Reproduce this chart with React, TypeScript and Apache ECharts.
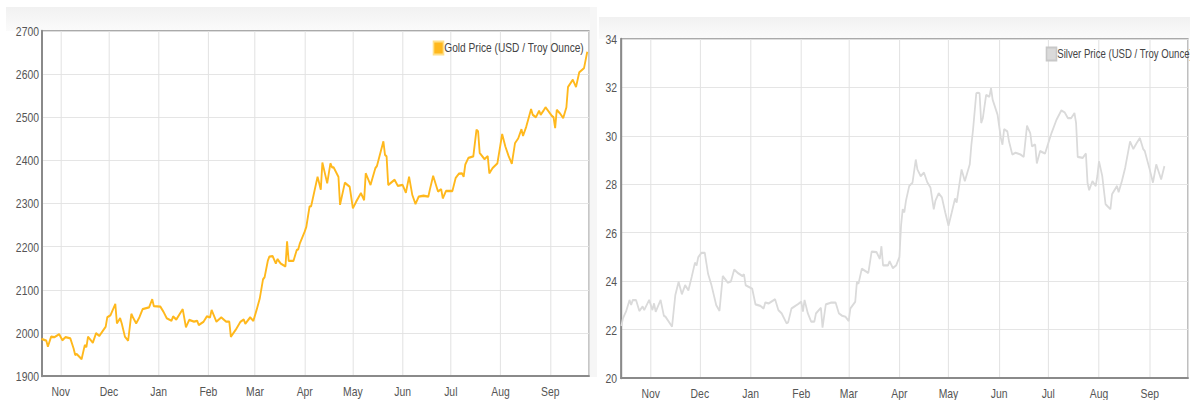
import React, { useEffect, useRef } from "react";
import * as echarts from "echarts";

const goldDates = ["2023-10-20","2023-10-23","2023-10-24","2023-10-26","2023-10-28","2023-10-31","2023-11-02","2023-11-04","2023-11-07","2023-11-09","2023-11-10","2023-11-11","2023-11-14","2023-11-16","2023-11-17","2023-11-18","2023-11-21","2023-11-23","2023-11-25","2023-11-29","2023-11-30","2023-12-02","2023-12-05","2023-12-06","2023-12-08","2023-12-09","2023-12-11","2023-12-13","2023-12-15","2023-12-16","2023-12-18","2023-12-20","2023-12-22","2023-12-26","2023-12-28","2023-12-29","2024-01-02","2024-01-04","2024-01-06","2024-01-09","2024-01-10","2024-01-12","2024-01-16","2024-01-18","2024-01-20","2024-01-23","2024-01-25","2024-01-26","2024-01-29","2024-01-31","2024-02-02","2024-02-03","2024-02-06","2024-02-09","2024-02-12","2024-02-14","2024-02-15","2024-02-18","2024-02-21","2024-02-23","2024-02-24","2024-02-27","2024-02-29","2024-03-02","2024-03-04","2024-03-06","2024-03-07","2024-03-09","2024-03-10","2024-03-12","2024-03-14","2024-03-15","2024-03-17","2024-03-20","2024-03-21","2024-03-22","2024-03-25","2024-03-27","2024-03-28","2024-03-29","2024-04-01","2024-04-02","2024-04-04","2024-04-05","2024-04-09","2024-04-11","2024-04-12","2024-04-15","2024-04-17","2024-04-18","2024-04-19","2024-04-22","2024-04-23","2024-04-26","2024-04-29","2024-05-01","2024-05-03","2024-05-06","2024-05-08","2024-05-09","2024-05-12","2024-05-15","2024-05-16","2024-05-20","2024-05-21","2024-05-22","2024-05-23","2024-05-27","2024-05-29","2024-06-01","2024-06-03","2024-06-05","2024-06-07","2024-06-09","2024-06-11","2024-06-14","2024-06-17","2024-06-18","2024-06-20","2024-06-23","2024-06-25","2024-06-26","2024-06-28","2024-07-02","2024-07-04","2024-07-06","2024-07-08","2024-07-09","2024-07-10","2024-07-12","2024-07-15","2024-07-17","2024-07-18","2024-07-19","2024-07-22","2024-07-24","2024-07-25","2024-07-27","2024-07-30","2024-08-02","2024-08-04","2024-08-06","2024-08-08","2024-08-10","2024-08-12","2024-08-14","2024-08-15","2024-08-17","2024-08-20","2024-08-21","2024-08-23","2024-08-25","2024-08-26","2024-08-28","2024-08-29","2024-09-02","2024-09-03","2024-09-04","2024-09-05","2024-09-07","2024-09-09","2024-09-11","2024-09-12","2024-09-15","2024-09-17","2024-09-19","2024-09-22","2024-09-24"];
const goldPrices = [1986,1982,1968,1991,1990,1997,1983,1990,1987,1964,1949,1951,1939,1972,1967,1991,1977,1999,1993,2014,2036,2041,2067,2022,2034,2022,1991,1982,2044,2036,2022,2036,2055,2059,2078,2062,2061,2049,2034,2028,2038,2031,2055,2013,2030,2026,2028,2018,2026,2038,2036,2053,2026,2036,2026,2026,1991,2007,2026,2031,2021,2036,2028,2053,2080,2124,2129,2167,2177,2178,2161,2171,2161,2154,2212,2167,2167,2192,2194,2208,2235,2246,2293,2294,2362,2332,2395,2347,2393,2384,2384,2362,2297,2348,2339,2289,2304,2324,2308,2370,2343,2382,2387,2444,2413,2409,2343,2355,2341,2343,2325,2362,2320,2299,2316,2318,2316,2333,2364,2328,2333,2312,2329,2329,2359,2369,2370,2362,2390,2406,2409,2471,2467,2417,2403,2410,2370,2382,2393,2461,2432,2410,2392,2440,2451,2472,2457,2478,2519,2506,2500,2515,2506,2517,2523,2503,2500,2475,2517,2509,2498,2523,2570,2587,2570,2604,2614,2652];

const silverDates = ["2023-10-14","2023-10-15","2023-10-17","2023-10-19","2023-10-20","2023-10-21","2023-10-23","2023-10-25","2023-10-27","2023-10-28","2023-10-31","2023-11-02","2023-11-03","2023-11-04","2023-11-07","2023-11-09","2023-11-10","2023-11-14","2023-11-16","2023-11-18","2023-11-20","2023-11-22","2023-11-24","2023-11-26","2023-11-28","2023-11-29","2023-11-30","2023-12-02","2023-12-04","2023-12-06","2023-12-08","2023-12-11","2023-12-13","2023-12-15","2023-12-18","2023-12-20","2023-12-22","2023-12-24","2023-12-27","2023-12-28","2023-12-29","2024-01-02","2024-01-04","2024-01-07","2024-01-09","2024-01-10","2024-01-12","2024-01-16","2024-01-18","2024-01-20","2024-01-23","2024-01-24","2024-01-26","2024-01-30","2024-02-01","2024-02-02","2024-02-03","2024-02-05","2024-02-07","2024-02-09","2024-02-10","2024-02-13","2024-02-14","2024-02-16","2024-02-19","2024-02-22","2024-02-24","2024-02-26","2024-02-28","2024-03-01","2024-03-02","2024-03-05","2024-03-06","2024-03-07","2024-03-09","2024-03-13","2024-03-15","2024-03-18","2024-03-20","2024-03-21","2024-03-22","2024-03-25","2024-03-26","2024-03-28","2024-03-30","2024-04-01","2024-04-02","2024-04-03","2024-04-04","2024-04-05","2024-04-07","2024-04-09","2024-04-11","2024-04-12","2024-04-14","2024-04-16","2024-04-18","2024-04-20","2024-04-22","2024-04-23","2024-04-25","2024-04-27","2024-04-29","2024-05-01","2024-05-03","2024-05-05","2024-05-06","2024-05-09","2024-05-11","2024-05-14","2024-05-15","2024-05-16","2024-05-18","2024-05-19","2024-05-20","2024-05-21","2024-05-22","2024-05-24","2024-05-26","2024-05-27","2024-05-28","2024-05-31","2024-06-02","2024-06-03","2024-06-04","2024-06-06","2024-06-07","2024-06-09","2024-06-11","2024-06-14","2024-06-16","2024-06-18","2024-06-20","2024-06-21","2024-06-23","2024-06-24","2024-06-26","2024-06-29","2024-07-03","2024-07-06","2024-07-09","2024-07-11","2024-07-13","2024-07-15","2024-07-17","2024-07-18","2024-07-19","2024-07-22","2024-07-24","2024-07-25","2024-07-26","2024-07-28","2024-07-30","2024-07-31","2024-08-01","2024-08-03","2024-08-05","2024-08-06","2024-08-08","2024-08-09","2024-08-12","2024-08-13","2024-08-15","2024-08-17","2024-08-20","2024-08-22","2024-08-24","2024-08-26","2024-08-28","2024-08-29","2024-09-01","2024-09-03","2024-09-05","2024-09-08","2024-09-10"];
const silverPrices = [22.15,22.47,22.77,23.22,23.02,23.22,23.22,22.77,22.95,22.81,23.22,22.81,23.08,22.74,23.22,22.57,22.53,22.12,23.42,23.97,23.46,23.83,23.62,24.17,24.76,24.65,24.99,25.17,25.17,24.31,23.86,23.01,22.77,24.21,23.94,23.99,24.48,24.35,24.21,24.28,23.83,23.69,23.04,22.98,22.87,23.12,23.08,23.25,22.8,22.67,22.26,22.3,22.87,23.05,23.15,22.74,23.22,22.67,22.33,22.33,22.67,22.9,22.08,23.04,23.11,23.11,22.67,22.57,22.53,22.35,22.87,23.15,23.97,23.9,24.51,24.34,25.22,25.2,24.92,25.44,24.65,24.65,24.82,24.54,24.65,25.0,26.29,26.97,26.84,27.32,27.93,28.07,29.02,28.61,28.34,28.48,28.09,27.86,26.97,27.32,27.63,27.45,26.84,26.29,26.84,27.41,27.25,28.61,28.13,28.82,29.64,30.25,31.76,31.78,31.76,30.53,30.73,31.69,31.62,31.97,31.49,30.87,29.91,29.64,30.28,30.18,29.77,29.23,29.3,29.23,29.13,30.42,30.11,29.57,29.64,28.86,29.37,29.27,30.12,30.66,31.05,30.97,30.73,30.73,30.94,30.53,29.13,29.09,29.27,28.06,27.76,28.13,27.93,28.34,28.95,28.34,27.18,27.11,26.97,27.59,27.93,27.68,28.13,28.68,29.77,29.46,29.7,29.91,29.46,29.37,28.61,28.07,28.82,28.2,28.75];

const monthNames = ["Jan","Feb","Mar","Apr","May","Jun","Jul","Aug","Sep","Oct","Nov","Dec"];
const goldName = "Gold Price (USD / Troy Ounce)";
const silverName = "Silver Price (USD / Troy Ounce)";

const toTs = (s: string) => {
  const [y, m, d] = s.split("-").map(Number);
  return Date.UTC(y, m - 1, d);
};
const HOUR = 3600 * 1000;
const DAY = 24 * HOUR;

// The reference is horizontally condensed; draw wider and squeeze with CSS.
const SX = 0.8;
const W = 1190;
const H = 400;
const px = (x: number) => x / SX;

const FONT = '"Liberation Sans", Arial, sans-serif';
const FS = 13;

export default function App() {
  const ref = useRef<HTMLDivElement>(null);
  useEffect(() => {
    if (!ref.current) return;
    const chart = echarts.init(ref.current, null, { renderer: "svg" });
    const goldData = goldDates.map((d, i) => [toTs(d), goldPrices[i]]);
    const silverData = silverDates.map((d, i) => [toTs(d), silverPrices[i]]);

    const monthLabel = (v: number) => {
      const dt = new Date(v);
      if (dt.getUTCDate() !== 1 || dt.getUTCHours() !== 0) return "";
      return monthNames[dt.getUTCMonth()];
    };

    const xCommon = (gridIndex: number, min: number, max: number) => ({
      type: "time",
      gridIndex,
      min,
      max,
      splitNumber: 11,
      minInterval: 28 * DAY,
      maxInterval: 31 * DAY,
      axisLine: { show: true, lineStyle: { color: "#8a8a8a", width: 2 } },
      axisTick: { show: false },
      axisLabel: {
        formatter: monthLabel,
        color: "#555",
        fontSize: FS,
        fontFamily: FONT,
        margin: 9,
        hideOverlap: false,
        showMinLabel: true,
        showMaxLabel: true,
      },
      splitLine: { show: true, lineStyle: { color: "#e2e2e2", width: 1.25 } },
    });

    const yCommon = (gridIndex: number, min: number, max: number, interval: number, margin: number) => ({
      type: "value",
      gridIndex,
      min,
      max,
      interval,
      axisLine: { show: true, lineStyle: { color: "#8a8a8a", width: 2.5 } },
      axisTick: { show: false },
      axisLabel: {
        color: "#555",
        fontSize: FS,
        fontFamily: FONT,
        margin,
        formatter: (v: number) => String(v),
      },
      splitLine: { show: true, lineStyle: { color: "#e2e2e2", width: 1 } },
    });

    const bandFill = () =>
      new echarts.graphic.LinearGradient(0, 0, 0, 1, [
        { offset: 0, color: "#f1f1f1" },
        { offset: 1, color: "#fbfbfb" },
      ]);

    chart.setOption({
      animation: false,
      useUTC: true,
      backgroundColor: "#ffffff",
      graphic: [
        { type: "rect", z: -10, shape: { x: px(6), y: 7, width: px(591), height: 24 }, style: { fill: bandFill() } },
        { type: "rect", z: -10, shape: { x: px(590), y: 7, width: px(7), height: 370 }, style: { fill: "#f6f6f6" } },
        { type: "rect", z: -10, shape: { x: px(599), y: 17, width: px(600), height: 22 }, style: { fill: bandFill() } },
      ],
      grid: [
        { left: px(42), top: 31, width: px(547), height: 345, show: true, borderColor: "#909090", borderWidth: 1.5, backgroundColor: "#fff" },
        { left: px(621), top: 39, width: px(591), height: 341, show: true, borderColor: "#909090", borderWidth: 1.5, backgroundColor: "#fff" },
      ],
      legend: [
        {
          data: [{ name: goldName, icon: "rect" }],
          left: px(432.7),
          top: 40.5,
          padding: 0,
          itemWidth: px(10),
          itemHeight: 13,
          selectedMode: false,
          textStyle: { color: "#444", fontSize: 12.7, fontFamily: FONT, padding: [0, 0, 0, -4] },
        },
        {
          data: [{ name: silverName, icon: "rect" }],
          left: px(1045.7),
          top: 46.5,
          padding: 0,
          itemWidth: px(10),
          itemHeight: 13,
          selectedMode: false,
          textStyle: { color: "#444", fontSize: 12, fontFamily: FONT, padding: [0, 0, 0, -4] },
        },
      ],
      xAxis: [
        xCommon(0, toTs("2023-10-20") + 8 * HOUR, toTs("2024-09-25") + 2 * HOUR),
        xCommon(1, toTs("2023-10-13") + 19 * HOUR, toTs("2024-09-24") + 10 * HOUR),
      ],
      yAxis: [yCommon(0, 1900, 2700, 100, px(3)), yCommon(1, 20, 34, 2, px(4))],
      series: [
        {
          name: goldName,
          type: "line",
          xAxisIndex: 0,
          yAxisIndex: 0,
          data: goldData,
          showSymbol: false,
          symbol: "none",
          lineStyle: { color: "#FFB81C", width: 2.3 },
          itemStyle: { color: "#FFB81C", borderColor: "#ffe08a", borderWidth: 1 },
        },
        {
          name: silverName,
          type: "line",
          xAxisIndex: 1,
          yAxisIndex: 1,
          data: silverData,
          showSymbol: false,
          symbol: "none",
          lineStyle: { color: "#dadada", width: 2.2 },
          itemStyle: { color: "#dadada", borderColor: "#c8c8c8", borderWidth: 1 },
        },
      ],
    });
    return () => chart.dispose();
  }, []);

  return (
    <div style={{ position: "fixed", left: 0, top: 0, width: W, height: H, overflow: "hidden", background: "#fff" }}>
      <div
        ref={ref}
        style={{ width: px(W), height: H, transform: `scaleX(${SX})`, transformOrigin: "0 0" }}
      />
    </div>
  );
}
